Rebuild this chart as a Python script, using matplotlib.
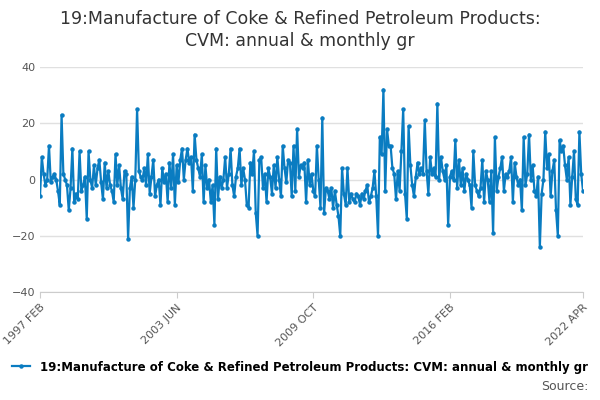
import numpy as np
import matplotlib.pyplot as plt

# monthly growth, 1997 FEB .. 2022 APR
values = [
    -6, 8, 2, -2, 0, 12, -1, 1, 2, 0,
    -4, -9, 23, 2, 0, -2, -11, -3, 11, -8,
    -5, -7, 10, -4, -2, 1, -14, 10, 0, -3,
    5, -2, 4, 7, -1, -7, 6, -3, 3, -2,
    -4, -8, 9, -2, 5, -3, -7, 3, 2, -21,
    -3, 1, -10, 0, 25, 3, 1, 0, 4, -2,
    9, -5, 1, 7, -6, -2, 0, -9, 4, -1,
    2, -8, 6, -3, 9, -9, 5, -1, 7, 11,
    0, 7, 11, 6, 8, -4, 16, 7, 4, 1,
    9, -8, 5, -3, 0, -8, -2, -16, 11, -7,
    1, -3, 0, 8, -3, 2, 11, -2, -6, 1,
    4, 11, -2, 4, 0, -9, -10, 6, 2, 10,
    -12, -20, 7, 8, -3, 2, -8, 4, 1, -5,
    5, -3, 8, 0, -6, 12, 4, -1, 7, 6,
    -6, 12, -4, 18, 1, 5, 4, 6, -8, 7,
    -2, 2, -4, -6, 12, 0, -10, 22, -12, -3,
    -4, -7, -3, -10, -4, -9, -13, -20, 4, -5,
    -9, 4, -8, -5, -7, -8, -5, -6, -9, -5,
    -7, -4, -2, -8, -6, -3, 3, -6, -20, 15,
    9, 32, -4, 18, 12, 12, 4, 2, -7, 3,
    -4, 10, 25, -5, -14, 19, 5, -2, -6, 1,
    6, 2, 4, 2, 21, 3, -5, 8, 2, 4,
    1, 27, 0, 8, 3, 0, 5, -16, 1, 3,
    0, 14, -3, 7, -2, 4, -4, 2, 0, -2,
    -10, 10, -2, -4, -6, -3, 7, -8, 3, 0,
    -8, 3, -19, 15, -4, 1, 4, 8, -4, 2,
    1, 3, 8, -8, 6, 1, -2, 0, -11, 15,
    -2, 2, 16, 0, 5, -4, -6, 1, -24, -5,
    0, 17, 4, 9, -6, 3, 7, -11, -20, 14,
    10, 12, 5, 0, 8, -9, 1, 10, -7, -9,
    17, 2, -4,
]
tick_pos = [0, 76, 152, 228, 302]
tick_labels = ['1997 FEB', '2003 JUN', '2009 OCT', '2016 FEB', '2022 APR']
series_name = '19:Manufacture of Coke & Refined Petroleum Products: CVM: annual & monthly gr'

fig = plt.figure(figsize=(6, 4), dpi=100)
ax = fig.add_axes([40/600, 1-292/400, 543/600, 225/400])
x = np.arange(len(values))
line, = ax.plot(x, values, color='#0a7cc1', lw=1.6, marker='o', ms=2.2)
ax.set_xlim(0, len(values) - 1)
ax.set_ylim(-40, 40)
ax.set_yticks([-40, -20, 0, 20, 40])
ax.grid(axis='y', color='#e0e0e0', lw=1)
ax.set_axisbelow(True)
for s in ['top', 'right', 'left']:
    ax.spines[s].set_visible(False)
ax.spines['bottom'].set_color('#cccccc')
ax.tick_params(axis='y', length=0, labelsize=8, colors='#555555')
ax.set_xticks(tick_pos)
ax.set_xticklabels(tick_labels, rotation=45, ha='right', rotation_mode='anchor',
                   fontsize=8, color='#555555')
ax.tick_params(axis='x', length=4, color='#cccccc')

fig.text(0.5, 0.975, '19:Manufacture of Coke & Refined Petroleum Products:\nCVM: annual & monthly gr',
         ha='center', va='top', fontsize=12.5, color='#333333', linespacing=1.3)
fig.legend([line], [series_name], loc='center', bbox_to_anchor=(0.5, 1-367/400),
           frameon=False, fontsize=8.5, handlelength=1.5,
           prop={'weight': 'bold', 'size': 8.5})
fig.text(588/600, 1-386/400, 'Source:', ha='right', va='center', fontsize=9, color='#555555')
fig.savefig('out.png', dpi=100)
